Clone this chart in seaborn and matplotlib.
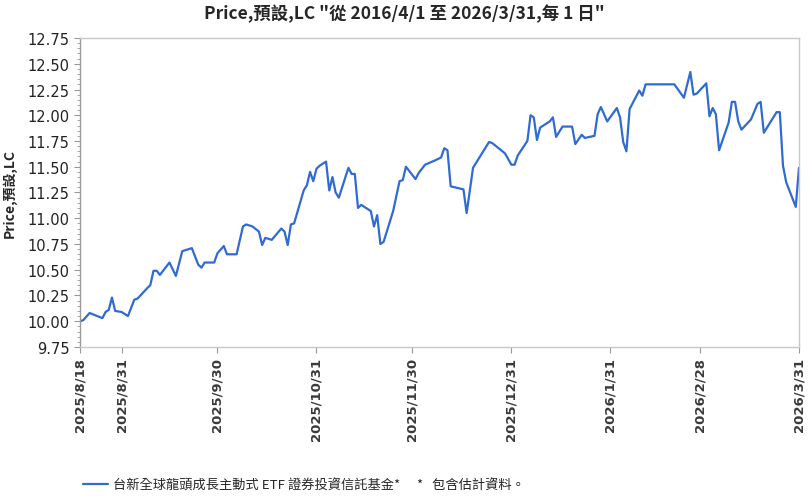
import pandas as pd
import numpy as np
import matplotlib
matplotlib.use("Agg")
import matplotlib.pyplot as plt
import matplotlib.dates as mdates
from matplotlib.lines import Line2D
from matplotlib.ticker import MultipleLocator
import seaborn as sns

# data
dates = [
    "2025-08-18", "2025-08-19", "2025-08-21", "2025-08-25", "2025-08-26", "2025-08-27",
    "2025-08-28", "2025-08-29", "2025-08-31", "2025-09-02", "2025-09-04", "2025-09-05",
    "2025-09-08", "2025-09-09", "2025-09-10", "2025-09-11", "2025-09-12", "2025-09-15",
    "2025-09-17", "2025-09-19", "2025-09-22", "2025-09-24", "2025-09-25", "2025-09-26",
    "2025-09-29", "2025-09-30", "2025-10-02", "2025-10-03", "2025-10-06", "2025-10-08",
    "2025-10-09", "2025-10-11", "2025-10-13", "2025-10-14", "2025-10-15", "2025-10-17",
    "2025-10-20", "2025-10-21", "2025-10-22", "2025-10-23", "2025-10-24", "2025-10-27",
    "2025-10-28", "2025-10-29", "2025-10-30", "2025-10-31", "2025-11-01", "2025-11-03",
    "2025-11-04", "2025-11-05", "2025-11-06", "2025-11-07", "2025-11-10", "2025-11-11",
    "2025-11-12", "2025-11-13", "2025-11-14", "2025-11-17", "2025-11-18", "2025-11-19",
    "2025-11-20", "2025-11-21", "2025-11-24", "2025-11-26", "2025-11-27", "2025-11-28",
    "2025-12-01", "2025-12-02", "2025-12-04", "2025-12-07", "2025-12-09", "2025-12-10",
    "2025-12-11", "2025-12-12", "2025-12-16", "2025-12-17", "2025-12-19", "2025-12-24",
    "2025-12-25", "2025-12-29", "2025-12-31", "2026-01-01", "2026-01-02", "2026-01-05",
    "2026-01-06", "2026-01-07", "2026-01-08", "2026-01-09", "2026-01-12", "2026-01-13",
    "2026-01-14", "2026-01-16", "2026-01-19", "2026-01-20", "2026-01-22", "2026-01-23",
    "2026-01-26", "2026-01-27", "2026-01-28", "2026-01-30", "2026-02-02", "2026-02-03",
    "2026-02-04", "2026-02-05", "2026-02-06", "2026-02-09", "2026-02-10", "2026-02-11",
    "2026-02-20", "2026-02-23", "2026-02-25", "2026-02-26", "2026-02-27", "2026-03-02",
    "2026-03-03", "2026-03-04", "2026-03-05", "2026-03-06", "2026-03-09", "2026-03-10",
    "2026-03-11", "2026-03-12", "2026-03-13", "2026-03-16", "2026-03-18", "2026-03-19",
    "2026-03-20", "2026-03-24", "2026-03-25", "2026-03-26", "2026-03-27", "2026-03-30",
    "2026-03-31",
]
prices = [
    10.00, 10.01, 10.08, 10.03, 10.09, 10.11,
    10.23, 10.10, 10.09, 10.05, 10.21, 10.22,
    10.32, 10.35, 10.49, 10.49, 10.45, 10.57,
    10.44, 10.68, 10.71, 10.55, 10.52, 10.57,
    10.57, 10.66, 10.73, 10.65, 10.65, 10.92,
    10.94, 10.92, 10.87, 10.74, 10.81, 10.79,
    10.90, 10.87, 10.74, 10.94, 10.95, 11.27,
    11.32, 11.45, 11.36, 11.48, 11.51, 11.55,
    11.27, 11.40, 11.25, 11.20, 11.49, 11.43,
    11.43, 11.10, 11.13, 11.07, 10.92, 11.03,
    10.75, 10.77, 11.07, 11.36, 11.37, 11.50,
    11.38, 11.44, 11.52, 11.56, 11.59, 11.68,
    11.66, 11.31, 11.28, 11.05, 11.49, 11.74,
    11.73, 11.63, 11.52, 11.52, 11.61, 11.75,
    12.00, 11.98, 11.76, 11.88, 11.94, 11.98,
    11.79, 11.89, 11.89, 11.72, 11.81, 11.78,
    11.80, 12.01, 12.08, 11.94, 12.07, 11.98,
    11.74, 11.65, 12.06, 12.24, 12.19, 12.30,
    12.30, 12.17, 12.42, 12.20, 12.21, 12.31,
    11.99, 12.07, 12.01, 11.66, 11.93, 12.13,
    12.13, 11.94, 11.86, 11.96, 12.11, 12.13,
    11.83, 12.03, 12.03, 11.51, 11.35, 11.11,
    11.49,
]
tick_dates = ["2025-08-18", "2025-08-31", "2025-09-30", "2025-10-31", "2025-11-30",
              "2025-12-31", "2026-01-31", "2026-02-28", "2026-03-31"]
tick_labels = ["2025/8/18", "2025/8/31", "2025/9/30", "2025/10/31", "2025/11/30",
               "2025/12/31", "2026/1/31", "2026/2/28", "2026/3/31"]
series_name = "台新全球龍頭成長主動式 ETF 證券投資信託基金*"
note = "*   包含估計資料。"
title = 'Price,預設,LC "從 2016/4/1 至 2026/3/31,每 1 日"'

df = pd.DataFrame({"date": pd.to_datetime(dates), "price": prices})

sns.set_style("white")
cjk = ["Noto Sans CJK TC", "DejaVu Sans"]
plt.rcParams["font.family"] = cjk

fig = plt.figure(figsize=(8.09, 5.02), dpi=100)
ax = fig.add_axes([0.0989, 0.3068, 0.8887, 0.6155])

line_color = "#2f6bd0"
sns.lineplot(data=df, x="date", y="price", ax=ax, color=line_color, linewidth=1.6)

ax.set_xlim(pd.Timestamp(tick_dates[0]), pd.Timestamp(tick_dates[-1]))
ax.set_ylim(9.75, 12.75)
ax.yaxis.set_major_locator(MultipleLocator(0.25))
ax.yaxis.set_minor_locator(MultipleLocator(0.05))
ax.set_yticklabels([f"{v:.2f}" for v in ax.get_yticks()],
                   family=["Liberation Sans Narrow", "DejaVu Sans"], fontsize=10.5, color="#222222")

ax.set_xticks(pd.to_datetime(tick_dates))
ax.set_xticklabels(tick_labels, rotation=90, fontsize=9.5, color="#3a3a3a",
                   family="DejaVu Sans", fontweight="semibold")

ax.tick_params(axis="y", which="major", direction="out", length=4, color="#999999", left=True)
ax.tick_params(axis="y", which="minor", direction="out", length=2.5, color="#999999", left=True)
ax.tick_params(axis="x", which="major", direction="out", length=4, color="#999999", bottom=True, pad=3)

for s in ax.spines.values():
    s.set_color("#c8c8c8")
    s.set_linewidth(1.0)
ax.spines["left"].set_color("#999999")

ax.set_xlabel("")
ax.set_ylabel("Price,預設,LC", fontsize=10, fontweight="bold", labelpad=8)
fig.suptitle(title, x=0.5, y=0.99, fontsize=12.5, fontweight="bold")

# legend below the chart
handle = Line2D([], [], color=line_color, linewidth=1.6)
fig.legend([handle], [series_name], loc="lower left", bbox_to_anchor=(0.088, -0.005),
           frameon=False, fontsize=9.5, handlelength=1.9, handletextpad=0.4)
fig.text(0.515, 0.032, note, fontsize=9.5, color="#222222", va="center")

fig.savefig("out.png", dpi=100)
